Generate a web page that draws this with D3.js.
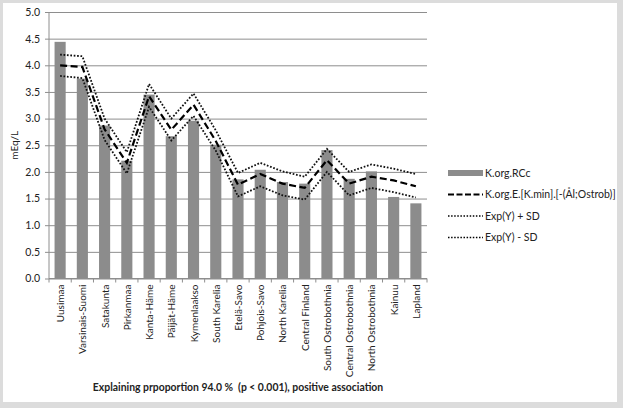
<!DOCTYPE html>
<html>
<head>
<meta charset="utf-8">
<script src="https://cdn.jsdelivr.net/npm/d3@7"></script>
<style>
  html, body { margin: 0; padding: 0; background: #dcdcdc; }
  svg { display: block; }
  text { font-family: Lato, "Open Sans", sans-serif; fill: #222; white-space: pre; }
</style>
</head>
<body>
<div id="chart"></div>
<script>
var regions = ["Uusimaa", "Varsinais-Suomi", "Satakunta", "Pirkanmaa", "Kanta-Häme", "Päijät-Häme",
    "Kymenlaakso", "South Karelia", "Etelä-Savo", "Pohjois-Savo", "North Karelia", "Central Finland",
    "South Ostrobothnia", "Central Ostrobothnia", "North Ostrobothnia", "Kainuu", "Lapland"];

var observed = [4.44, 3.75, 2.87, 2.21, 3.45, 2.67, 2.96, 2.51, 1.86, 2.04, 1.81, 1.78, 2.41, 1.87, 2.01, 1.53, 1.41];
var expected = [4.00, 3.97, 2.80, 2.17, 3.42, 2.79, 3.26, 2.58, 1.76, 1.96, 1.78, 1.70, 2.22, 1.78, 1.91, 1.84, 1.73];
var upperSD  = [4.20, 4.17, 3.00, 2.37, 3.65, 3.00, 3.47, 2.78, 1.98, 2.17, 2.01, 1.91, 2.43, 2.00, 2.14, 2.06, 1.96];
var lowerSD  = [3.80, 3.76, 2.60, 1.97, 3.22, 2.59, 3.05, 2.40, 1.54, 1.73, 1.56, 1.48, 2.00, 1.56, 1.70, 1.62, 1.52];

var yTicks = [0, 0.5, 1.0, 1.5, 2.0, 2.5, 3.0, 3.5, 4.0, 4.5, 5.0];

var legendItems = [
    { label: "K.org.RCc", kind: "bar" },
    { label: "K.org.E.[K.min].[-(Ål;Ostrob)]", kind: "dash" },
    { label: "Exp(Y) + SD", kind: "dot" },
    { label: "Exp(Y) - SD", kind: "dot" }
];

var width = 623, height = 408;
var plot = { left: 49, right: 427, top: 12, bottom: 278.5 };

var svg = d3.select("#chart").append("svg")
    .attr("width", width)
    .attr("height", height);

// white panel on grey page
svg.append("rect")
    .attr("x", 3).attr("y", 3)
    .attr("width", 614).attr("height", 399)
    .attr("fill", "#ffffff");

var x = d3.scaleBand()
    .domain(regions)
    .range([plot.left, plot.right])
    .paddingInner(0.5)
    .paddingOuter(0.25);

var y = d3.scaleLinear()
    .domain([0, 5])
    .range([plot.bottom, plot.top]);

// gridlines + y axis labels
var yAxis = svg.append("g")
    .attr("transform", "translate(" + plot.left + ",0)")
    .call(d3.axisLeft(y)
        .tickValues(yTicks)
        .tickFormat(d3.format(".1f"))
        .tickSize(-(plot.right - plot.left))
        .tickPadding(9));
yAxis.select(".domain").remove();
yAxis.selectAll(".tick line")
    .attr("x1", -4)
    .attr("stroke", "#8e8e8e")
    .attr("stroke-width", 1);
yAxis.selectAll(".tick text")
    .style("font-family", "Lato, 'Open Sans', sans-serif")
    .style("font-size", "10.5px")
    .attr("fill", "#222");

// vertical axis line
svg.append("line")
    .attr("x1", plot.left).attr("x2", plot.left)
    .attr("y1", plot.top).attr("y2", plot.bottom)
    .attr("stroke", "#8e8e8e");

// bars
svg.selectAll(".bar")
    .data(observed)
    .enter().append("rect")
    .attr("class", "bar")
    .attr("x", function(d, i) { return x(regions[i]); })
    .attr("y", function(d) { return y(d); })
    .attr("width", x.bandwidth())
    .attr("height", function(d) { return y(0) - y(d); })
    .attr("fill", "#8c8c8c");

// x axis with ticks between categories
var step = x.step();
var xAxis = svg.append("g")
    .attr("transform", "translate(0," + plot.bottom + ")");
xAxis.append("line")
    .attr("x1", plot.left).attr("x2", plot.right)
    .attr("stroke", "#8e8e8e");
xAxis.selectAll(".sep")
    .data(d3.range(regions.length + 1))
    .enter().append("line")
    .attr("class", "sep")
    .attr("x1", function(i) { return plot.left + i * step; })
    .attr("x2", function(i) { return plot.left + i * step; })
    .attr("y1", 0).attr("y2", 4)
    .attr("stroke", "#8e8e8e");
xAxis.selectAll(".xlab")
    .data(regions)
    .enter().append("text")
    .attr("class", "xlab")
    .attr("transform", function(d) {
        return "translate(" + (x(d) + x.bandwidth() / 2 + 4) + ",6) rotate(-90)";
    })
    .attr("text-anchor", "end")
    .style("font-size", "10px")
    .text(function(d) { return d; });

// lines
var line = d3.line()
    .x(function(d, i) { return x(regions[i]) + x.bandwidth() / 2; })
    .y(function(d) { return y(d); });

svg.append("path")
    .datum(upperSD)
    .attr("d", line)
    .attr("fill", "none")
    .attr("stroke", "#111")
    .attr("stroke-width", 1.8)
    .attr("stroke-dasharray", "1.7,1.7");

svg.append("path")
    .datum(lowerSD)
    .attr("d", line)
    .attr("fill", "none")
    .attr("stroke", "#111")
    .attr("stroke-width", 1.8)
    .attr("stroke-dasharray", "1.7,1.7");

svg.append("path")
    .datum(expected)
    .attr("d", line)
    .attr("fill", "none")
    .attr("stroke", "#000")
    .attr("stroke-width", 2.2)
    .attr("stroke-dasharray", "7,3.5");

// y axis title
svg.append("text")
    .attr("transform", "translate(18," + ((plot.top + plot.bottom) / 2) + ") rotate(-90)")
    .attr("text-anchor", "middle")
    .style("font-size", "10px")
    .text("mEq/L");

// bottom caption
svg.append("text")
    .attr("x", (plot.left + plot.right) / 2)
    .attr("y", 391)
    .attr("text-anchor", "middle")
    .style("font-size", "10.4px")
    .style("font-weight", "bold")
    .text("Explaining prpoportion 94.0 %  (p < 0.001), positive association");

// legend
var legend = svg.append("g")
    .attr("transform", "translate(448,173)");
var items = legend.selectAll(".item")
    .data(legendItems)
    .enter().append("g")
    .attr("class", "item")
    .attr("transform", function(d, i) { return "translate(0," + i * 21.5 + ")"; });

items.each(function(d) {
    var g = d3.select(this);
    if (d.kind === "bar") {
        g.append("rect")
            .attr("x", 0).attr("y", -3)
            .attr("width", 35).attr("height", 6)
            .attr("fill", "#8c8c8c");
    } else {
        g.append("line")
            .attr("x1", 0).attr("x2", 35)
            .attr("stroke", "#000")
            .attr("stroke-width", d.kind === "dash" ? 2.2 : 1.5)
            .attr("stroke-dasharray", d.kind === "dash" ? "6,2.5" : "1.5,1.6");
    }
    g.append("text")
        .attr("x", 37)
        .attr("dy", "0.35em")
        .style("font-size", "10.5px")
        .text(d.label);
});
</script>
</body>
</html>
